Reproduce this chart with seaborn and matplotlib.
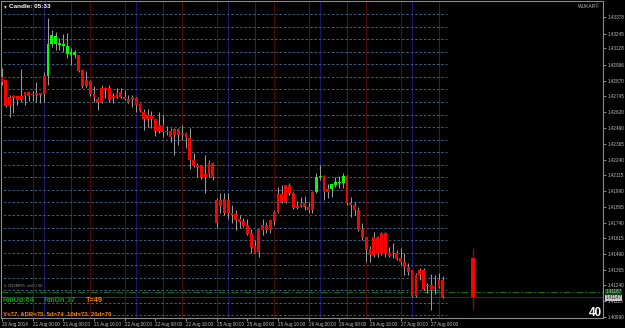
import matplotlib
matplotlib.use("Agg")
import matplotlib.pyplot as plt
import seaborn as sns
import pandas as pd
import numpy as np

# ---------------- data (H1 candles, 20-27 Aug 2014) ----------------
open_ = [1.42899, 1.42875, 1.42740, 1.42748, 1.42748, 1.42748, 1.42780, 1.42780, 1.42764, 1.42772,
         1.42772, 1.42907, 1.42907, 1.43162, 1.43162, 1.43154, 1.43146, 1.43082, 1.43074, 1.43074,
         1.43074, 1.42955, 1.42875, 1.42867, 1.42764, 1.42724, 1.42811, 1.42811, 1.42811, 1.42748,
         1.42772, 1.42780, 1.42740, 1.42724, 1.42740, 1.42732, 1.42684, 1.42620, 1.42596, 1.42588,
         1.42565, 1.42517, 1.42517, 1.42469, 1.42469, 1.42485, 1.42485, 1.42453, 1.42453, 1.42413,
         1.42238, 1.42198, 1.42198, 1.42127, 1.42214, 1.42214, 1.41920, 1.41920, 1.41928, 1.41920,
         1.41816, 1.41808, 1.41768, 1.41752, 1.41721, 1.41657, 1.41553, 1.41689, 1.41721, 1.41721,
         1.41760, 1.41824, 1.41967, 1.41967, 1.42039, 1.42039, 1.41975, 1.41872, 1.41896, 1.41896,
         1.41864, 1.41983, 1.41983, 1.42103, 1.42111, 1.42007, 1.42007, 1.42039, 1.42055, 1.42055,
         1.42111, 1.41896, 1.41880, 1.41840, 1.41689, 1.41625, 1.41529, 1.41625, 1.41625, 1.41657,
         1.41657, 1.41498, 1.41506, 1.41498, 1.41458, 1.41426, 1.41386, 1.41362, 1.41322, 1.41362,
         1.41362, 1.41243, 1.41243, 1.41235, 1.41283, 1.41283]
high_ = [1.42971, 1.42875, 1.42756, 1.42756, 1.42748, 1.42963, 1.42780, 1.42787, 1.42787, 1.42859,
         1.42772, 1.42939, 1.43369, 1.43273, 1.43257, 1.43209, 1.43241, 1.43249, 1.43130, 1.43114,
         1.43074, 1.42955, 1.42947, 1.42875, 1.42827, 1.42740, 1.42835, 1.42819, 1.42835, 1.42772,
         1.42811, 1.42811, 1.42795, 1.42756, 1.42756, 1.42740, 1.42692, 1.42644, 1.42644, 1.42628,
         1.42565, 1.42620, 1.42596, 1.42509, 1.42493, 1.42493, 1.42493, 1.42517, 1.42461, 1.42493,
         1.42294, 1.42214, 1.42198, 1.42278, 1.42238, 1.42222, 1.41936, 1.41975, 1.41975, 1.41975,
         1.41880, 1.41840, 1.41800, 1.41776, 1.41768, 1.41689, 1.41601, 1.41689, 1.41768, 1.41744,
         1.41760, 1.41840, 1.42023, 1.42039, 1.42039, 1.42055, 1.41983, 1.41912, 1.41944, 1.41951,
         1.41904, 1.41991, 1.42135, 1.42198, 1.42119, 1.42047, 1.42047, 1.42103, 1.42111, 1.42135,
         1.42119, 1.41944, 1.41904, 1.41864, 1.41736, 1.41625, 1.41553, 1.41665, 1.41633, 1.41665,
         1.41665, 1.41545, 1.41577, 1.41522, 1.41537, 1.41498, 1.41418, 1.41362, 1.41338, 1.41378,
         1.41378, 1.41259, 1.41330, 1.41322, 1.41338, 1.41314]
low_ = [1.42835, 1.42660, 1.42580, 1.42612, 1.42676, 1.42700, 1.42676, 1.42708, 1.42708, 1.42700,
        1.42692, 1.42700, 1.42835, 1.43138, 1.43114, 1.43114, 1.43098, 1.43050, 1.42994, 1.43050,
        1.42939, 1.42811, 1.42819, 1.42748, 1.42700, 1.42636, 1.42692, 1.42732, 1.42700, 1.42692,
        1.42732, 1.42732, 1.42716, 1.42692, 1.42660, 1.42620, 1.42620, 1.42477, 1.42501, 1.42493,
        1.42429, 1.42453, 1.42421, 1.42437, 1.42381, 1.42278, 1.42358, 1.42397, 1.42334, 1.42166,
        1.42182, 1.42103, 1.42087, 1.41975, 1.42103, 1.42079, 1.41697, 1.41816, 1.41800, 1.41768,
        1.41736, 1.41681, 1.41697, 1.41705, 1.41641, 1.41498, 1.41498, 1.41466, 1.41641, 1.41657,
        1.41657, 1.41721, 1.41816, 1.41896, 1.41896, 1.41959, 1.41848, 1.41848, 1.41864, 1.41840,
        1.41816, 1.41816, 1.41975, 1.42079, 1.41920, 1.41936, 1.41944, 1.42023, 1.42015, 1.42015,
        1.41880, 1.41784, 1.41800, 1.41673, 1.41601, 1.41426, 1.41426, 1.41466, 1.41466, 1.41482,
        1.41466, 1.41466, 1.41458, 1.41442, 1.41402, 1.41322, 1.41322, 1.41147, 1.41147, 1.41283,
        1.41203, 1.41179, 1.41044, 1.41171, 1.41219, 1.41139]
close_ = [1.42859, 1.42668, 1.42676, 1.42732, 1.42716, 1.42716, 1.42748, 1.42748, 1.42756, 1.42756,
          1.42756, 1.42764, 1.43162, 1.43233, 1.43225, 1.43170, 1.43162, 1.43146, 1.43098, 1.43098,
          1.42947, 1.42827, 1.42827, 1.42764, 1.42740, 1.42700, 1.42700, 1.42803, 1.42716, 1.42732,
          1.42740, 1.42740, 1.42724, 1.42700, 1.42716, 1.42676, 1.42628, 1.42565, 1.42565, 1.42565,
          1.42469, 1.42469, 1.42461, 1.42461, 1.42421, 1.42437, 1.42437, 1.42437, 1.42413, 1.42238,
          1.42190, 1.42182, 1.42103, 1.42103, 1.42127, 1.42103, 1.41737, 1.41872, 1.41816, 1.41816,
          1.41800, 1.41760, 1.41744, 1.41713, 1.41649, 1.41545, 1.41498, 1.41506, 1.41681, 1.41681,
          1.41681, 1.41752, 1.41824, 1.41904, 1.41904, 1.41975, 1.41856, 1.41856, 1.41872, 1.41864,
          1.41840, 1.41840, 1.42103, 1.42111, 1.41983, 1.41983, 1.42047, 1.42063, 1.42063, 1.42111,
          1.41896, 1.41880, 1.41840, 1.41681, 1.41625, 1.41529, 1.41482, 1.41482, 1.41490, 1.41490,
          1.41490, 1.41474, 1.41498, 1.41450, 1.41426, 1.41386, 1.41346, 1.41155, 1.41155, 1.41322,
          1.41211, 1.41235, 1.41203, 1.41227, 1.41227, 1.41147]

# higher-timeframe candle drawn by the "Candle" indicator
htf_open, htf_high, htf_low, htf_close = 1.41458, 1.41537, 1.41044, 1.41147
htf_index = 123

# session separator lines (bar index)
green_lines = [8, 32, 56, 80, 104]
blue_lines = [11, 35, 59, 83, 107]
purple_lines = [18, 42, 66, 90, 114]
red_lines = [23, 47, 71, 95]

# 10-pip round-number levels
level_lines = [1.4100, 1.4110, 1.4120, 1.4130, 1.4140, 1.4150, 1.4160, 1.4170, 1.4180, 1.4190,
               1.4200, 1.4210, 1.4220, 1.4230, 1.4240, 1.4250, 1.4260, 1.4270, 1.4280, 1.4290,
               1.4300, 1.4310, 1.4320, 1.4330, 1.4340]
ask_level = 1.41187
bid_level = 1.41147

price_ticks = [1.43378, 1.43245, 1.43128, 1.42996, 1.42870, 1.42745, 1.42620, 1.42490, 1.42365,
               1.42240, 1.42115, 1.41990, 1.41865, 1.41740, 1.41615, 1.41490, 1.41365, 1.41240,
               1.41115, 1.40990]
date_ticks = [0, 8, 16, 24, 32, 40, 48, 56, 64, 72, 80, 88, 96, 104, 112]
date_labels = ["20 Aug 2014", "21 Aug 00:00", "21 Aug 08:00", "21 Aug 16:00", "22 Aug 00:00",
               "22 Aug 08:00", "22 Aug 16:00", "25 Aug 00:00", "25 Aug 08:00", "25 Aug 16:00",
               "26 Aug 00:00", "26 Aug 08:00", "26 Aug 16:00", "27 Aug 00:00", "27 Aug 08:00"]

# ---------------- figure ----------------
sns.set_theme(style="dark", rc={
    "figure.facecolor": "black", "axes.facecolor": "black", "savefig.facecolor": "black",
    "axes.edgecolor": "#808080", "text.color": "#c8c8c8",
    "xtick.color": "#c0c0c0", "ytick.color": "#c0c0c0",
})
plt.rcParams["font.family"] = ["Liberation Sans", "DejaVu Sans"]

W, H = 625, 328
fig = plt.figure(figsize=(W / 100, H / 100), dpi=100)
ax = fig.add_axes([1 / W, 1 - 318 / H, 602 / W, 317 / H])
ax.set_facecolor("black")

df = pd.DataFrame({"open": open_, "high": high_, "low": low_, "close": close_})
df["idx"] = np.arange(len(df))
df["bull"] = df["close"] > df["open"]

# session lines
for xs, col in [(green_lines, "#0a360a"), (blue_lines, "#161670"),
                (purple_lines, "#3a1468"), (red_lines, "#500808")]:
    ax.vlines(xs, 1.3, 1.5, colors=col, lw=0.75, zorder=1)

# round-number levels
ax.hlines(level_lines, -1, 116, colors="#3c6288", lw=0.7, linestyles=(0, (2.5, 2.0)), zorder=1)

# bid / ask lines
ax.axhline(ask_level, color="#0e700e", lw=0.8, ls=(0, (6, 2, 1.5, 2)), zorder=1)
ax.axhline(bid_level, color="#283428", lw=0.8, zorder=1)

# candles
ax.vlines(df["idx"], df["low"], df["high"], colors="#9a9a9a", lw=0.75, zorder=2)
body_lo = df[["open", "close"]].min(axis=1)
body_h = (df["open"] - df["close"]).abs().clip(lower=0.00008)
colors = np.where(df["bull"], "#00ff00", "#ff0000")
ax.bar(df["idx"], body_h, bottom=body_lo, width=0.72, color=colors, linewidth=0, zorder=3)

# higher timeframe candle
ax.vlines([htf_index], [htf_low], [htf_high], colors="#b00000", lw=0.9, zorder=2)
ax.bar([htf_index], [htf_open - htf_close], bottom=[htf_close], width=1.05,
       color="#ff0000", linewidth=0, zorder=3)

ax.set_xlim(-0.26, 156.8)
ax.set_ylim(1.40980, 1.43504)

ax.yaxis.tick_right()
ax.set_yticks(price_ticks)
ax.set_yticklabels([f"{p:.5f}" for p in price_ticks])
ax.tick_params(axis="y", which="major", length=2.5, width=0.6, color="#a0a0a0",
               labelsize=3.3, pad=1.2, right=True)
ax.set_xticks(date_ticks)
ax.set_xticklabels(date_labels)
ax.tick_params(axis="x", length=2, width=0.6, color="#a0a0a0", labelsize=3.3, pad=1.2, bottom=True)
for lab in ax.get_xticklabels():
    lab.set_horizontalalignment("left")
ax.grid(False)
for s in ax.spines.values():
    s.set_color("#8a8a8a")
    s.set_linewidth(0.8)


def ftext(x, y, s, **kw):
    fig.text(x / W, 1 - y / H, s, **kw)


# texts
ftext(4, 6.5, "\u25be", color="#d0d0d0", fontsize=4, va="center", ha="left",
      family=["DejaVu Sans"])
ftext(9, 6.5, "Candle: 05:33", color="#ffffff", fontsize=4.6, fontweight="bold", va="center", ha="left")
ftext(578, 7, "WUKAR\u00a9", color="#b8b8b8", fontsize=3.5, va="center", ha="left")
ftext(4, 286, "#-ZN9MRS .sell 0.00", color="#8a8a8a", fontsize=3.0, va="center", ha="left")
ftext(3, 301, "RmUp:64", color="#10a010", fontsize=5.2, fontweight="bold", va="center", ha="left")
ftext(43, 301, "RmDn:37", color="#10a010", fontsize=5.2, fontweight="bold", va="center", ha="left")
ftext(86, 301, "T=49", color="#ff8000", fontsize=5.2, fontweight="bold", va="center", ha="left")
ftext(3, 314.5, "Y=77  ADR=75  5d=74  10d=73  20d=76", color="#ff8000", fontsize=4.3,
      fontweight="bold", va="center", ha="left")
ftext(602, 313, "40", color="#ffffff", fontsize=8.5, fontweight="bold", va="center", ha="right")

# price boxes on the right scale
ax.text(1.004, ask_level + 0.00002, f"{ask_level:.5f}", transform=ax.get_yaxis_transform(),
        color="#c8c8c8", fontsize=3.3, va="center", ha="left",
        bbox=dict(boxstyle="square,pad=0.12", fc="#0a4a0a", ec="none"), clip_on=False, zorder=5)
ax.text(1.004, bid_level - 0.00005, f"{bid_level:.5f}", transform=ax.get_yaxis_transform(),
        color="#202020", fontsize=3.3, va="center", ha="left",
        bbox=dict(boxstyle="square,pad=0.12", fc="#c8c8c8", ec="none"), clip_on=False, zorder=5)

fig.savefig("out.png", dpi=100, facecolor="black")
